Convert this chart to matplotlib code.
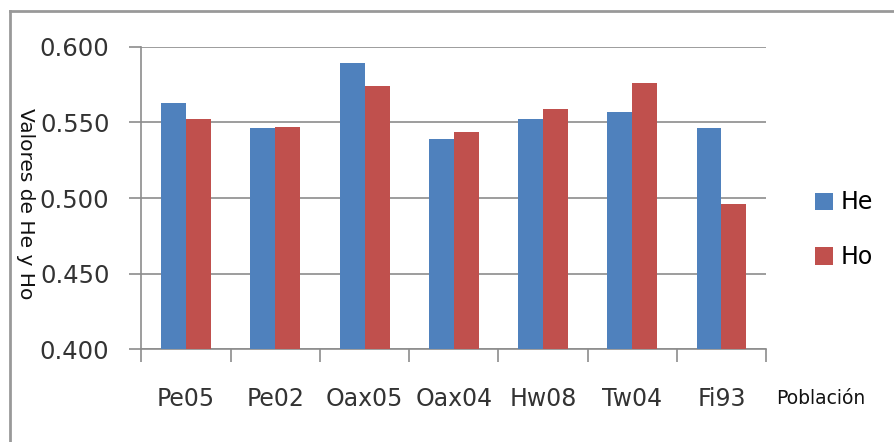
import numpy as np
import matplotlib
matplotlib.use('Agg')
from matplotlib import pyplot as plt
from matplotlib.lines import Line2D

# data
poblaciones = ['Pe05', 'Pe02', 'Oax05', 'Oax04', 'Hw08', 'Tw04', 'Fi93']
he_values = [0.563, 0.546, 0.589, 0.539, 0.552, 0.557, 0.546]
ho_values = [0.552, 0.547, 0.574, 0.544, 0.559, 0.576, 0.496]
y_ticks = [0.400, 0.450, 0.500, 0.550, 0.600]

plt.rcParams['font.family'] = ['DejaVu Sans']

fig = plt.figure(figsize=(8.95, 4.42), dpi=100)
ax = fig.add_axes([0.158, 0.210, 0.698, 0.684])

x = np.arange(len(poblaciones))
width = 0.28
ax.bar(x - width / 2, he_values, width, color='#4F81BD', label='He', zorder=3)
ax.bar(x + width / 2, ho_values, width, color='#C0504D', label='Ho', zorder=3)

ax.set_ylim(0.400, 0.600)
ax.set_xlim(-0.5, len(poblaciones) - 0.5)
ax.set_yticks(y_ticks)
ax.set_yticklabels([f'{v:.3f}' for v in y_ticks], fontsize=17.5, color='#333333')
ax.grid(axis='y', color='#8c8c8c', linewidth=1.2, zorder=0)

# category labels between boundary ticks
ax.set_xticks(np.arange(-0.5, len(poblaciones)), minor=False)
ax.set_xticklabels([])
ax.set_xticks(x, minor=True)
ax.set_xticklabels(poblaciones, minor=True, fontsize=17, color='#333333')
ax.tick_params(axis='x', which='major', length=9, width=1.2, color='#8c8c8c', direction='out')
ax.tick_params(axis='x', which='minor', length=0, pad=27)
ax.tick_params(axis='y', length=9, width=1.2, color='#8c8c8c', pad=14)

for side in ['top', 'right']:
    ax.spines[side].set_visible(False)
for side in ['left', 'bottom']:
    ax.spines[side].set_color('#8c8c8c')
    ax.spines[side].set_linewidth(1.2)

fig.text(0.028, 0.54, 'Valores de He y Ho', rotation=-90, fontsize=14.5,
         ha='center', va='center', color='#111111')
fig.text(0.917, 0.098, 'Población', fontsize=13.5, ha='center', va='center', color='#111111')

ax.legend(loc='center left', bbox_to_anchor=(1.078, 0.395), frameon=False,
          fontsize=17, handlelength=0.75, handleheight=0.75, handletextpad=0.35,
          labelspacing=1.3, borderpad=0, borderaxespad=0)

# outer chart border
fig.add_artist(Line2D([0.011, 0.011], [0.0, 0.975], color='#999999', linewidth=2))
fig.add_artist(Line2D([0.011, 1.0], [0.975, 0.975], color='#999999', linewidth=2))

fig.savefig('out.png', dpi=100, facecolor='white')
